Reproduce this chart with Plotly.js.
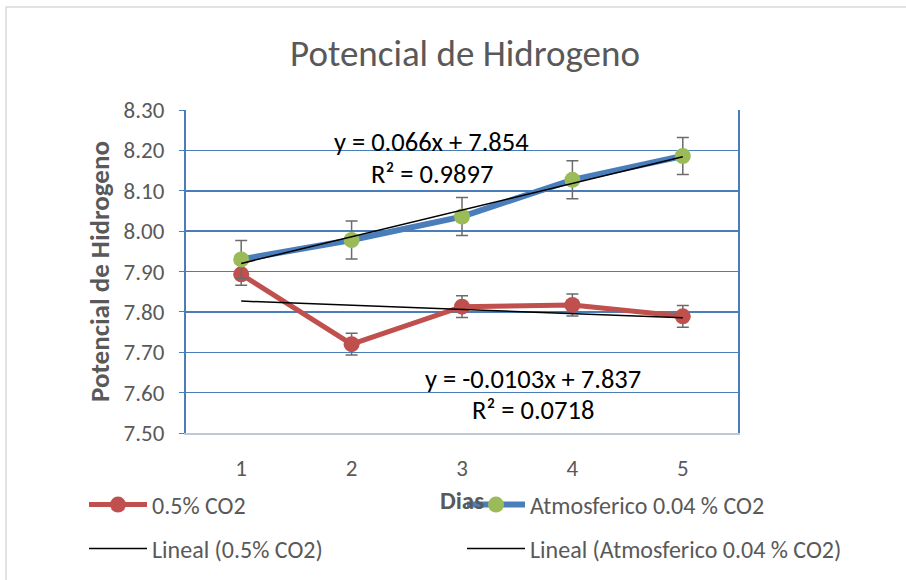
<!DOCTYPE html>
<html><head><meta charset="utf-8">
<script src="https://cdn.plot.ly/plotly-3.0.1.min.js"></script>
<style>body{margin:0;padding:0;background:#fff}#chart{width:906px;height:580px}</style>
</head><body><div id="chart"></div>
<script>
const dias = [1, 2, 3, 4, 5];
const co2Alto = [7.893, 7.720, 7.813, 7.817, 7.789];
const co2AltoErr = [0.027, 0.027, 0.027, 0.027, 0.027];
const atmosferico = [7.930, 7.978, 8.036, 8.127, 8.186];
const atmosfericoErr = [0.047, 0.047, 0.047, 0.047, 0.046];
const trendAlto = {slope: -0.0103, intercept: 7.837};
const trendAtm = {slope: 0.066, intercept: 7.854};
const yTicks = [7.5, 7.6, 7.7, 7.8, 7.9, 8.0, 8.1, 8.2, 8.3];

const FONT = 'Calibri, Carlito, Lato, sans-serif';
const GREY = '#595959';
const trendY = t => dias.map(x => t.slope * x + t.intercept);

const traces = [
  {x: dias, y: co2Alto, name: '0.5% CO2', type: 'scatter', mode: 'lines+markers',
   line: {color: '#C0504D', width: 5}, marker: {color: '#C0504D', size: 16},
   error_y: {type: 'data', array: co2AltoErr, visible: true, color: '#6B6B6B', thickness: 1.5, width: 6},
   legend: 'legend'},
  {x: dias, y: atmosferico, name: 'Atmosferico 0.04 % CO2', type: 'scatter', mode: 'lines+markers',
   line: {color: '#4A7EBB', width: 6}, marker: {color: '#9BBB59', size: 16},
   error_y: {type: 'data', array: atmosfericoErr, visible: true, color: '#6B6B6B', thickness: 1.5, width: 6},
   legend: 'legend2'},
  {x: dias, y: trendY(trendAlto), name: 'Lineal (0.5% CO2)', type: 'scatter', mode: 'lines',
   line: {color: '#000', width: 1.5}, legend: 'legend3'},
  {x: dias, y: trendY(trendAtm), name: 'Lineal (Atmosferico 0.04 % CO2)', type: 'scatter', mode: 'lines',
   line: {color: '#000', width: 1.5}, legend: 'legend4'}
];

const PL = 186, PT = 110, PW = 552, PH = 323;
const px2x = p => (p - PL) / PW;
const px2y = p => (PT + PH - p) / PH;
const legendAt = (xp, yp) => ({orientation: 'h', xanchor: 'left', yanchor: 'middle',
  x: px2x(xp), y: px2y(yp), itemwidth: 58,
  font: {family: FONT, size: 24, color: GREY}, bgcolor: 'rgba(0,0,0,0)'});

const layout = {
  width: 906, height: 580,
  margin: {l: PL, r: 906 - PL - PW, t: PT, b: 580 - PT - PH, autoexpand: false},
  paper_bgcolor: '#fff', plot_bgcolor: '#fff',
  font: {family: FONT, color: GREY},
  title: {text: 'Potencial de Hidrogeno', font: {family: FONT, size: 37, color: GREY},
          x: 465 / 906, xanchor: 'center', y: 1 - 53/580, yanchor: 'middle'},
  xaxis: {range: [0.5, 5.5], tickvals: dias, ticktext: dias.map(String), showgrid: false,
          showline: true, linecolor: '#BFC8D6', linewidth: 2, ticks: '', zeroline: false,
          tickfont: {family: FONT, size: 23, color: GREY}, ticklabelstandoff: 13,
          title: {text: '<b>Dias</b>', font: {family: FONT, size: 25, color: GREY}, standoff: 11}},
  yaxis: {range: [7.5, 8.3], tickvals: yTicks, tickformat: '.2f', showgrid: true,
          gridcolor: '#4A7EBB', gridwidth: 1.5, showline: true, linecolor: '#4A7EBB', linewidth: 2,
          mirror: true, ticks: 'outside', ticklen: 5, tickcolor: '#4A7EBB', zeroline: false,
          tickfont: {family: FONT, size: 23, color: GREY}, ticklabelstandoff: 10,
          title: {text: '<b>Potencial de Hidrogeno</b>', font: {family: FONT, size: 27, color: GREY}, standoff: 6}},
  showlegend: true,
  legend: legendAt(84, 505),
  legend2: legendAt(462, 505),
  legend3: legendAt(84, 549),
  legend4: legendAt(462, 549),
  annotations: [
    {xref: 'x', yref: 'y', x: 2.728, y: 8.221, text: 'y = 0.066x + 7.854', showarrow: false, font: {family: FONT, size: 26.5, color: '#000'}},
    {xref: 'x', yref: 'y', x: 2.728, y: 8.141, text: 'R² = 0.9897', showarrow: false, font: {family: FONT, size: 26.5, color: '#000'}},
    {xref: 'x', yref: 'y', x: 3.643, y: 7.634, text: 'y = -0.0103x + 7.837', showarrow: false, font: {family: FONT, size: 26.5, color: '#000'}},
    {xref: 'x', yref: 'y', x: 3.643, y: 7.557, text: 'R² = 0.0718', showarrow: false, font: {family: FONT, size: 26.5, color: '#000'}}
  ],
  shapes: [
    {type: 'rect', xref: 'paper', yref: 'paper', x0: px2x(6), x1: px2x(920),
     y0: px2y(600), y1: px2y(7), line: {color: '#D9D9D9', width: 1.5}, layer: 'below'}
  ]
};

Plotly.newPlot('chart', traces, layout, {displayModeBar: false, staticPlot: true});
</script>
</body></html>
